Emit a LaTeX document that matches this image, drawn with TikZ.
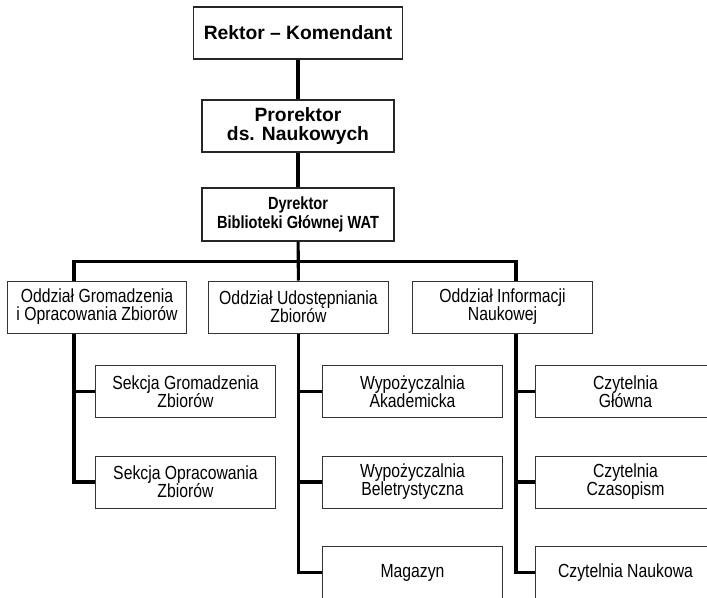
\documentclass[tikz,border=0pt]{standalone}
\usepackage{fontspec}
\setmainfont{Liberation Sans}
\newfontfamily\narrowfont[FakeStretch=0.83]{Liberation Sans}
\usetikzlibrary{positioning}

\begin{document}
\begin{tikzpicture}[
    x=0.025cm, y=-0.025cm,
    head/.style={rectangle, draw=black!85, line width=0.9pt, minimum height=1.3cm, inner sep=0pt, align=center, font=\fontsize{13.7}{13.5}\selectfont\bfseries},
    unit/.style={rectangle, draw=black!80, line width=0.7pt, minimum width=4.475cm, minimum height=1.3cm, inner sep=0pt, align=center, font=\narrowfont\fontsize{13.5}{12.8}\selectfont},
    link/.style={line width=2.2pt}
]
\useasboundingbox (0,0) rectangle (707,597);
\clip (0,0) rectangle (707,597);

% Management
\node[head, minimum width=5.225cm] (rektor) at (298,33) {Rektor -- Komendant};
\node[head, minimum width=4.8cm] (prorektor) at (298,126) {Prorektor\\ds. Naukowych};
\node[head, minimum width=4.8cm, minimum height=1.325cm, font=\narrowfont\fontsize{12.5}{13.5}\selectfont\bfseries] (dyrektor) at (298,214.5) {Dyrektor\\Biblioteki Głównej WAT};

% Departments
\node[unit, minimum width=4.45cm] (gromadzenie) at (97,307) {Oddział Gromadzenia\\i Opracowania Zbiorów};
\node[unit] (udostepnianie) at (298.5,307) {Oddział Udostępniania\\Zbiorów};
\node[unit] (informacja) at (502.5,307) {Oddział Informacji\\Naukowej};

% Sections
\node[unit] (sekcjaG) at (185.5,391.5) {Sekcja Gromadzenia\\Zbiorów};
\node[unit] (sekcjaO) at (185.5,482) {Sekcja Opracowania\\Zbiorów};

\node[unit] (wypAk) at (412.5,391.5) {Wypożyczalnia\\Akademicka};
\node[unit] (wypBel) at (412.5,482) {Wypożyczalnia\\Beletrystyczna};
\node[unit] (magazyn) at (412.5,572.5) {Magazyn};

\node[unit] (czytGl) at (625.5,391.5) {Czytelnia\\Główna};
\node[unit] (czytCz) at (625.5,482) {Czytelnia\\Czasopism};
\node[unit] (czytN) at (625.5,572.5) {Czytelnia Naukowa};

% Links
\draw[link] (rektor) -- (prorektor);
\draw[link] (prorektor) -- (dyrektor);
\draw[link] (dyrektor) -- (udostepnianie);
\draw[link] ([xshift=-0.575cm]gromadzenie.north) -- ++(0,-19) -| ([xshift=0.3375cm]informacja.north);

\coordinate (colL) at ([xshift=-0.575cm]gromadzenie.south);
\coordinate (colM) at (udostepnianie.south);
\coordinate (colR) at ([xshift=0.3375cm]informacja.south);

\draw[link] (colL) |- (sekcjaO.west);
\draw[link] (sekcjaG.west) -- (sekcjaG.west -| colL);

\draw[link] (colM) |- (magazyn.west);
\draw[link] (wypAk.west) -- (wypAk.west -| colM);
\draw[link] (wypBel.west) -- (wypBel.west -| colM);

\draw[link] (colR) |- (czytN.west);
\draw[link] (czytGl.west) -- (czytGl.west -| colR);
\draw[link] (czytCz.west) -- (czytCz.west -| colR);

\end{tikzpicture}
\end{document}
